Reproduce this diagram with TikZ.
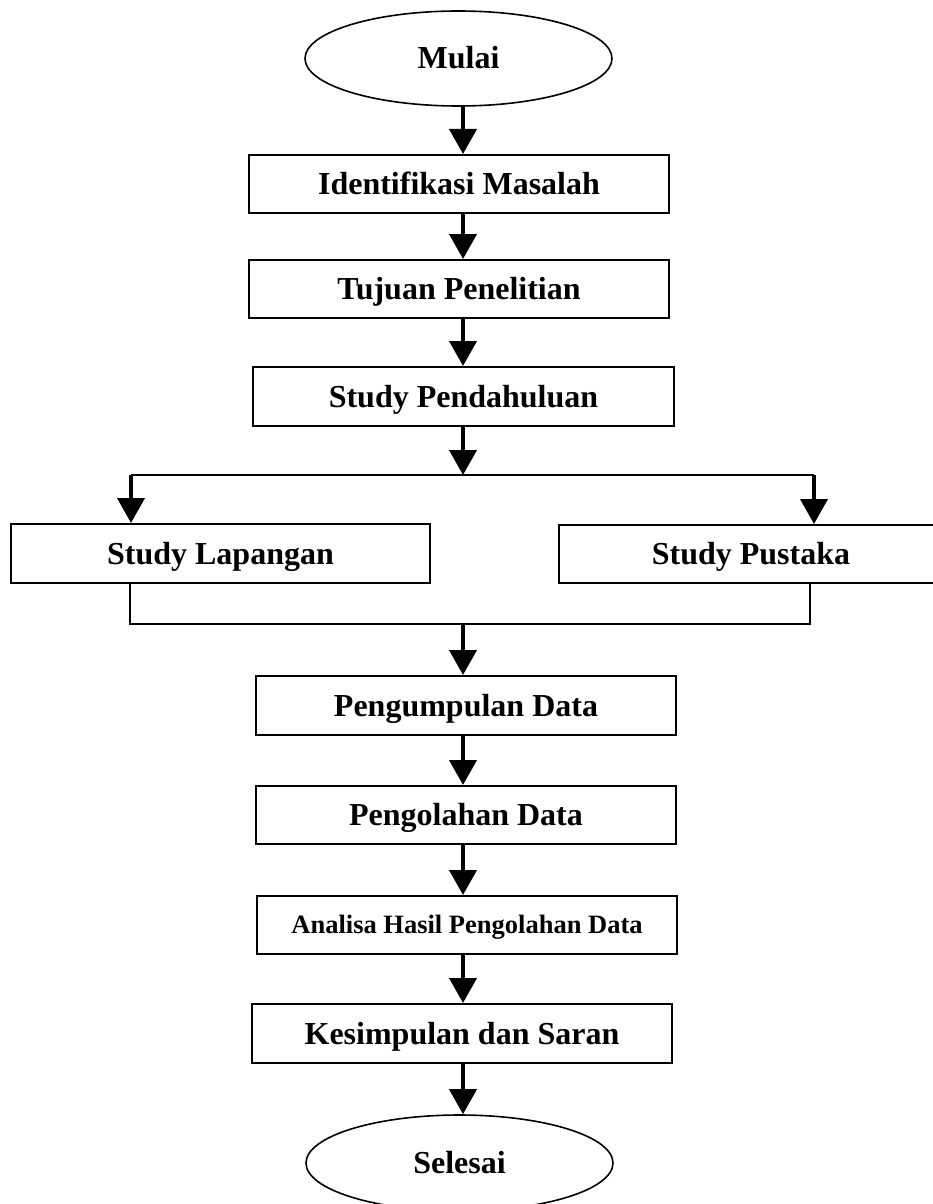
\documentclass[tikz,border=0pt]{standalone}
\usepackage{fontspec}
\setmainfont{Liberation Serif}
\usetikzlibrary{arrows.meta,shapes.geometric}
\begin{document}
\begin{tikzpicture}[x=1pt,y=-1pt,
  lbl/.style={font=\fontsize{32}{38}\selectfont\bfseries,text height=21pt,text depth=0pt},
  smalllbl/.style={font=\fontsize{26.5}{32}\selectfont\bfseries,text height=17.5pt,text depth=0pt},
  box/.style={draw,line width=2pt,minimum width=420pt,minimum height=58pt,inner sep=0pt},
  term/.style={ellipse,draw,line width=1.6pt,minimum width=307pt,minimum height=95pt,inner sep=0pt,lbl},
  arr/.style={line width=4pt,-{Triangle[width=27pt,length=25pt]}},
  split/.style={line width=2.5pt},
  merge/.style={line width=1.6pt}]
\useasboundingbox (0,0) rectangle (933,1204);

% terminals and process steps
\node[term] (mulai) at (458.5,58.5) {Mulai};
\node[box,lbl] (ident) at (459,184) {Identifikasi Masalah};
\node[box,lbl] (tujuan) at (459,289) {Tujuan Penelitian};
\node[box,lbl,minimum width=421pt,minimum height=59pt] (pend) at (463.5,396.5) {Study Pendahuluan};
\node[box,lbl,minimum width=419pt,minimum height=59pt] (lap) at (220.5,553.5) {Study Lapangan};
\node[box,lbl,minimum width=384pt] (pus) at (751,554) {Study Pustaka};
\node[box,lbl,minimum height=59pt] (kumpul) at (466,705.5) {Pengumpulan Data};
\node[box,lbl] (olah) at (466,815) {Pengolahan Data};
\node[box,smalllbl] (analisa) at (467,925) {Analisa Hasil Pengolahan Data};
\node[box,lbl,minimum height=59pt] (simpul) at (462,1033.5) {Kesimpulan dan Saran};
\node[term,minimum height=96pt] (selesai) at (459.5,1163) {Selesai};

% main flow line and branch points
\coordinate (spine) at (463,0);
\coordinate (sl) at (131,475);
\coordinate (sr) at (814,475);
\coordinate (ml) at (130,624);
\coordinate (mr) at (810,624);

\draw[arr] (mulai.south -| spine) -- (ident.north -| spine);
\draw[arr] (ident.south -| spine) -- (tujuan.north -| spine);
\draw[arr] (tujuan.south -| spine) -- (pend.north -| spine);
\draw[arr] (pend.south -| spine) -- (spine |- sl);

% branch to the two studies
\draw[split] (sl) -- (sr);
\draw[arr] (sl) -- (sl |- lap.north);
\draw[arr] (sr) -- (sr |- pus.north);

% join of the two studies
\draw[merge] (lap.south -| ml) -- (ml) -- (mr) -- (pus.south -| mr);
\draw[arr] (spine |- ml) -- (kumpul.north -| spine);

\draw[arr] (kumpul.south -| spine) -- (olah.north -| spine);
\draw[arr] (olah.south -| spine) -- (analisa.north -| spine);
\draw[arr] (analisa.south -| spine) -- (simpul.north -| spine);
\draw[arr] (simpul.south -| spine) -- (selesai.north -| spine);
\end{tikzpicture}
\end{document}
